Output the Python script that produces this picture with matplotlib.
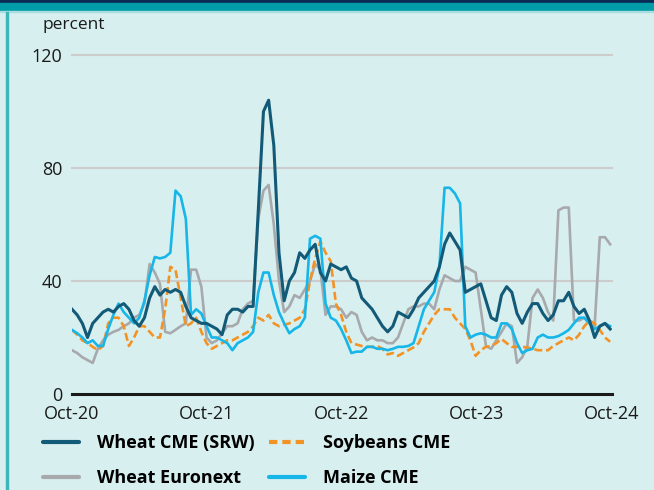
import matplotlib
matplotlib.use("Agg")
import matplotlib.pyplot as plt
import matplotlib.dates as mdates
from matplotlib.lines import Line2D
from matplotlib.patches import Rectangle
import pandas as pd

# biweekly observations, Oct 2020 - Sep 2024 (implied volatility, percent)
dates = pd.date_range("2020-10-01", periods=105, freq="14D")

wheat_cme = [30, 28, 25, 20, 25, 27, 29, 30, 29, 31,
             32, 30, 26, 24, 27, 34, 38, 35, 37, 36,
             37, 36, 31, 27, 26, 25, 25, 24, 23, 21,
             28, 30, 30, 29, 31, 31, 65, 100, 104, 88,
             50, 33, 40, 43, 50, 48, 51, 53, 43, 40,
             46, 45, 44, 45, 41, 40, 34, 32, 30, 27,
             24, 22, 24, 29, 28, 27, 30, 34, 36, 38,
             40, 45, 53, 57, 54, 51, 36, 37, 38, 39,
             33, 27, 26, 35, 38, 36, 28.5, 25, 29, 32,
             32, 28.5, 26, 28, 33, 33, 36, 31, 28.5, 30,
             26, 20, 24, 25, 23]

soybeans_cme = [22.7, 21, 19, 18, 16.7, 15.5, 17, 25, 27, 27,
                24, 17, 20, 24, 24, 22, 20, 20, 30, 45,
                44, 34, 24, 25, 27, 22, 18, 16, 17, 18,
                19, 19, 20, 21, 22, 24, 27, 26, 28, 25,
                24, 24.5, 25, 26, 27, 30, 40, 48, 54, 50,
                47, 32, 28, 22, 18, 17.5, 17, 16.7, 16.7, 17,
                16, 14, 14.5, 13.5, 14.5, 15.5, 16.5, 18, 22, 25,
                28, 30, 30, 30, 27, 25, 23, 19, 13.5, 15.5,
                16.7, 17, 18, 19.5, 18, 16.7, 16.7, 16.7, 16.5, 16,
                15.5, 15.5, 15.5, 17, 18, 19, 20, 19, 21, 24,
                26, 25, 22.7, 20, 18.5]

wheat_euronext = [15.5, 14.5, 13, 12, 11, 16, 19, 21, 22, 22.7,
                  24, 25, 27, 28, 32, 46, 43, 39, 22, 21.5,
                  22.7, 24, 25, 44, 44, 38, 20, 18, 19, 21.5,
                  24, 24, 25, 30, 32, 33, 62, 72, 74, 60,
                  40, 29, 31, 35, 34, 37, 40, 46, 44, 28,
                  31, 31, 30, 27, 29, 28, 22, 19, 20, 19,
                  19, 18, 18, 20, 25, 30, 31, 31, 32, 32,
                  30, 37, 42, 41, 40, 40, 45, 44, 43, 30,
                  17, 16, 19, 22, 25, 24, 11, 13, 17, 34,
                  37, 34, 29, 26, 65, 66, 66, 26, 26, 27,
                  25, 24, 55.5, 55.5, 53]

maize_cme = [22.7, 21.5, 20, 18, 19, 17, 17, 23, 28, 32,
             29, 27, 25, 27, 33, 42, 48.5, 48, 48.5, 50,
             72, 70, 62, 28, 30, 28.5, 24, 20, 20, 19,
             18, 15.5, 18, 19, 20, 22, 36, 43, 43, 35,
             29, 25, 21.5, 23, 24, 27, 55, 56, 55, 32,
             27, 26, 23, 19, 14.5, 15, 15, 16.7, 16.7, 16,
             16, 15.5, 16, 16.7, 16.7, 17, 18, 24, 30, 33,
             36, 45, 73, 73, 71, 67.5, 24, 20, 21, 21.5,
             21, 20, 20, 25, 25, 23, 18, 14.5, 15.5, 16,
             20, 21, 20, 20, 20.5, 21.5, 22.7, 25, 27, 27,
             25, 23, 24, 25, 24]

y_ticks = [0, 40, 80, 120]
x_ticks = ["2020-10-01", "2021-10-01", "2022-10-01", "2023-10-01", "2024-10-01"]

bg = "#d8efef"
c_wheat = "#125a77"
c_soy = "#f39325"
c_eur = "#a7a9ac"
c_maize = "#17b6e8"

plt.rcParams["font.family"] = ["Open Sans", "DejaVu Sans"]

fig = plt.figure(figsize=(6.54, 4.90), dpi=100, facecolor=bg)

# header bars and left border
fig.patches.append(Rectangle((0, 1 - 3 / 490), 1, 3 / 490, transform=fig.transFigure,
                             color="#0b2a55", zorder=0))
fig.patches.append(Rectangle((0, 1 - 11 / 490), 1, 8 / 490, transform=fig.transFigure,
                             color="#009ca8", zorder=0))
fig.patches.append(Rectangle((0, 1 - 12 / 490), 1, 1 / 490, transform=fig.transFigure,
                             color="#a9dde0", zorder=0))
fig.patches.append(Rectangle((6 / 654, 0), 2 / 654, 1 - 12 / 490, transform=fig.transFigure,
                             color="#3db6ba", zorder=0))

ax = fig.add_axes([72 / 654, 96 / 490, 540 / 654, (394 - 55) * 122 / 120 / 490])
ax.set_facecolor(bg)

ax.plot(dates, wheat_euronext, color=c_eur, lw=1.9, zorder=3)
ax.plot(dates, soybeans_cme, color=c_soy, lw=1.9, dashes=(3, 1.4), zorder=4)
ax.plot(dates, maize_cme, color=c_maize, lw=1.9, zorder=5)
ax.plot(dates, wheat_cme, color=c_wheat, lw=2.2, zorder=6)

ax.set_ylim(0, 122)
ax.set_xlim(pd.Timestamp(x_ticks[0]), pd.Timestamp(x_ticks[-1]))
ax.set_yticks(y_ticks)
ax.set_xticks(pd.to_datetime(x_ticks))
ax.xaxis.set_major_formatter(mdates.DateFormatter("%b-%y"))
for y in y_ticks[1:]:
    ax.axhline(y, color="#cccccc", lw=1.5, zorder=1, clip_on=False)

for s in ["top", "right", "left"]:
    ax.spines[s].set_visible(False)
ax.spines["bottom"].set_color("#1a1a1a")
ax.spines["bottom"].set_linewidth(2.2)
ax.spines["bottom"].set_zorder(7)
ax.tick_params(length=0, labelsize=13, colors="#1a1a1a")
ax.tick_params(axis="y", pad=7)
ax.tick_params(axis="x", pad=8)

fig.text(43 / 654, 1 - 25 / 490, "percent", fontsize=12.5, color="#1a1a1a", va="center", ha="left")

handles = [Line2D([], [], color=c_wheat, lw=3, solid_capstyle="round"),
           Line2D([], [], color=c_eur, lw=3, solid_capstyle="round"),
           Line2D([], [], color=c_soy, lw=3, dashes=(2, 1.2)),
           Line2D([], [], color=c_maize, lw=3, solid_capstyle="round")]
labels = ["Wheat CME (SRW)", "Wheat Euronext", "Soybeans CME", "Maize CME"]
fig.legend(handles, labels, ncol=2, loc="upper left", bbox_to_anchor=(34 / 654, 1 - 425 / 490),
           frameon=False, borderpad=0, handlelength=2.0, handletextpad=1.0,
           columnspacing=0.8, labelspacing=0.95,
           prop={"weight": "bold", "size": 13})

fig.savefig("out.png", dpi=100, facecolor=bg)
